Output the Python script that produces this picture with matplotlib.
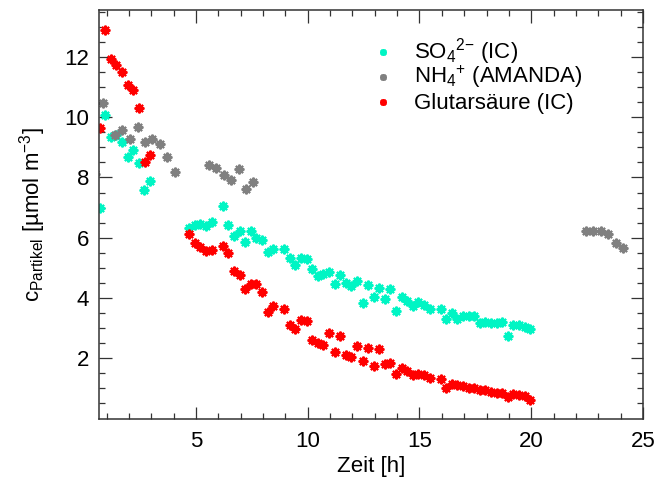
import matplotlib
matplotlib.use("Agg")
import matplotlib.pyplot as plt

plt.rcParams["font.family"] = ["Liberation Sans", "DejaVu Sans"]
plt.rcParams["mathtext.fontset"] = "custom"
plt.rcParams["mathtext.rm"] = "Liberation Sans"
plt.rcParams["mathtext.it"] = "Liberation Sans:italic"
plt.rcParams["mathtext.bf"] = "Liberation Sans:bold"

# Sulfate (IC)
so4_t = [0.69, 0.94, 1.19, 1.43, 1.70, 1.94, 2.18, 2.43, 2.68, 2.94,
         4.70, 4.94, 5.19, 5.44, 5.70, 6.19, 6.44, 6.69, 6.95, 7.19,
         7.44, 7.70, 7.95, 8.20, 8.45, 8.95, 9.20, 9.45, 9.70, 9.95,
         10.20, 10.45, 10.70, 10.95, 11.20, 11.45, 11.70, 11.95, 12.20, 12.45,
         12.70, 12.95, 13.20, 13.45, 13.70, 13.95, 14.20, 14.45, 14.70, 14.95,
         15.20, 15.45, 15.95, 16.20, 16.45, 16.70, 16.95, 17.20, 17.45, 17.70,
         17.95, 18.20, 18.45, 18.70, 18.95, 19.20, 19.45, 19.70, 19.95]
so4_c = [7.00, 10.08, 9.34, 9.41, 9.19, 8.69, 8.91, 8.49, 7.57, 7.87,
         6.31, 6.41, 6.46, 6.40, 6.53, 7.05, 6.42, 6.06, 6.21, 5.86,
         6.22, 5.98, 5.92, 5.53, 5.63, 5.63, 5.32, 5.09, 5.32, 5.28,
         4.97, 4.73, 4.79, 4.85, 4.47, 4.76, 4.50, 4.41, 4.57, 3.83,
         4.44, 4.02, 4.32, 3.96, 4.30, 3.56, 4.04, 3.90, 3.73, 3.87,
         3.76, 3.65, 3.63, 3.30, 3.49, 3.30, 3.40, 3.40, 3.40, 3.16,
         3.21, 3.16, 3.16, 3.19, 2.73, 3.12, 3.09, 3.04, 2.98]

# Ammonium (AMANDA)
nh4_t = [0.49, 0.82, 1.36, 1.71, 2.03, 2.39, 2.70, 3.04, 3.37, 3.71, 4.06,
         5.57, 5.90, 6.25, 6.58, 6.92, 7.24, 7.57,
         22.45, 22.77, 23.10, 23.43, 23.79, 24.12]
nh4_c = [8.12, 10.48, 9.41, 9.57, 9.27, 9.66, 9.18, 9.29, 9.10, 8.69, 8.19,
         8.40, 8.33, 8.08, 7.92, 8.28, 7.63, 7.85,
         6.23, 6.23, 6.22, 6.12, 5.83, 5.67]

# Glutaric acid (IC)
glu_t = [0.69, 0.94, 1.19, 1.43, 1.70, 1.94, 2.18, 2.45, 2.70, 2.95,
         4.70, 4.94, 5.19, 5.44, 5.70, 6.19, 6.44, 6.69, 6.95, 7.19,
         7.44, 7.70, 7.95, 8.20, 8.45, 8.95, 9.20, 9.45, 9.70, 9.95,
         10.20, 10.45, 10.70, 10.95, 11.20, 11.45, 11.70, 11.95, 12.20, 12.45,
         12.70, 12.95, 13.20, 13.45, 13.70, 13.95, 14.20, 14.45, 14.70, 14.95,
         15.20, 15.45, 15.95, 16.20, 16.45, 16.70, 16.95, 17.20, 17.45, 17.70,
         17.95, 18.20, 18.45, 18.70, 18.95, 19.20, 19.45, 19.70, 19.95]
glu_c = [9.65, 12.90, 11.93, 11.74, 11.50, 11.07, 10.90, 10.31, 8.52, 8.74,
         6.12, 5.84, 5.70, 5.57, 5.58, 5.72, 5.51, 4.89, 4.77, 4.30,
         4.48, 4.45, 4.21, 3.54, 3.74, 3.64, 3.12, 2.98, 3.26, 3.24,
         2.62, 2.51, 2.44, 2.84, 2.21, 2.73, 2.11, 2.05, 2.41, 1.90,
         2.33, 1.74, 2.31, 1.80, 1.83, 1.49, 1.66, 1.57, 1.45, 1.47,
         1.43, 1.36, 1.30, 1.02, 1.16, 1.11, 1.07, 1.02, 1.02, 0.96,
         0.94, 0.88, 0.83, 0.83, 0.72, 0.81, 0.77, 0.74, 0.61]

labels = ["SO$_4$$^{2{\u2212}}$ (IC)", "NH$_4$$^{+}$ (AMANDA)", "Glutars\u00e4ure (IC)"]
colors = ["#00F5C4", "#808080", "#FF0000"]

x_major = [5, 10, 15, 20, 25]
y_major = [2, 4, 6, 8, 10, 12]

fig = plt.figure(figsize=(6.56, 4.96), dpi=100)
ax = fig.add_axes([99 / 656, 1 - 418.5 / 496, (643 - 99) / 656, (418.5 - 10) / 496])

star = (8, 2, 0)
ms, mew = 7.0, 1.5
for t, c, col in zip([so4_t, nh4_t, glu_t], [so4_c, nh4_c, glu_c], colors):
    ax.plot(t, c, linestyle="none", marker=star, ms=ms, mew=mew,
            color=col, mec=col)

ax.set_xlim(0.66, 25.0)
ax.set_ylim(0.0, 13.56)
ax.set_xticks(x_major)
ax.set_yticks(y_major)
ax.set_xticks(range(1, 25), minor=True)
ax.set_yticks([v * 0.5 for v in range(1, 28)], minor=True)

ax.tick_params(which="both", direction="in", top=True, right=True,
               labelsize=16, width=0.9, color="#333333")
ax.tick_params(which="major", length=9.0)
ax.tick_params(which="minor", length=4.5)
ax.tick_params(axis="x", pad=9)
ax.tick_params(axis="y", pad=7)
for s in ax.spines.values():
    s.set_linewidth(1.1)
    s.set_color("#333333")

ax.set_xlabel("Zeit [h]", fontsize=16, labelpad=3)
ax.set_ylabel("c$_{\\mathrm{Partikel}}$ [\u00b5mol m$^{-3}$]", fontsize=16, labelpad=12)

# Legend: symbol column plus text column, one row per series
leg_marker_x = 0.522
leg_text_x = 0.579
leg_baselines = [0.8816, 0.8204, 0.7587]
for lab, col, yb in zip(labels, colors, leg_baselines):
    ax.plot([leg_marker_x], [yb + 0.016], transform=ax.transAxes,
            linestyle="none", marker=star, ms=5, mew=1.3, color=col, mec=col,
            clip_on=False)
    ax.text(leg_text_x, yb, lab, transform=ax.transAxes, fontsize=16,
            ha="left", va="baseline")

fig.savefig("out.png", dpi=100)
